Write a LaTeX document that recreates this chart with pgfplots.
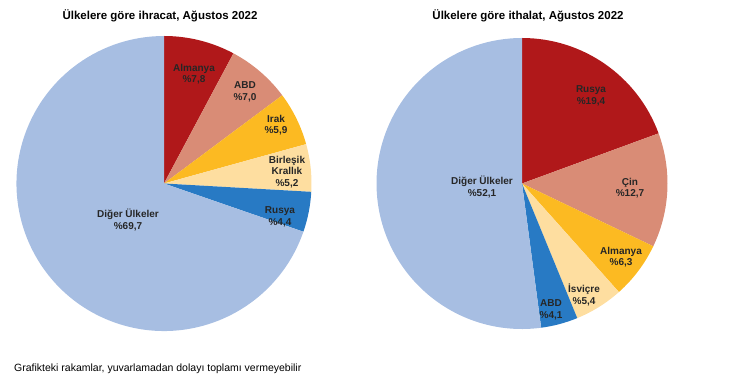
\documentclass[border=0pt]{standalone}
\usepackage{pgfplots}
\usepackage{pgfplotstable}
\pgfplotsset{compat=1.18}
\usepackage{fontspec}
\setmainfont{Liberation Sans}
\definecolor{c1}{HTML}{B0181A}
\definecolor{c2}{HTML}{D98C76}
\definecolor{c3}{HTML}{FCBA22}
\definecolor{c4}{HTML}{FEDEA0}
\definecolor{c5}{HTML}{287AC4}
\definecolor{c6}{HTML}{A7BEE2}
% exports, Aug 2022 (share %), clockwise from 12 o'clock
\pgfplotstableread{
v c
7.8 c1
7.0 c2
5.9 c3
5.2 c4
4.4 c5
69.7 c6
}\exports
% imports, Aug 2022
\pgfplotstableread{
v c
19.4 c1
12.7 c2
6.3 c3
5.4 c4
4.1 c5
52.1 c6
}\imports
\newcommand\drawpie[4]{% table, cx, cy, r
  \gdef\cum{0}%
  \pgfplotstableforeachcolumnelement{v}\of#1\as\val{%
    \pgfplotstablegetelem{\pgfplotstablerow}{c}\of#1%
    \let\col\pgfplotsretval
    \pgfmathsetmacro\a{90-3.6*\cum}%
    \pgfmathsetmacro\b{90-3.6*(\cum+\val)}%
    \edef\temp{\noexpand\fill[\col] (axis cs:#2,#3) -- ++(\a:#4pt) arc[start angle=\a, end angle=\b, radius=#4pt] -- cycle;}%
    \temp
    \pgfmathsetmacro\newcum{\cum+\val}%
    \xdef\cum{\newcum}%
  }%
}
\begin{document}
\begin{tikzpicture}
\begin{axis}[
  width=730pt, height=377pt, scale only axis,
  xmin=0, xmax=730, ymin=-377, ymax=0,
  hide axis, clip=false,
]
\drawpie{\exports}{164}{-183.5}{147.5}
\drawpie{\imports}{522}{-183.5}{145.5}
\begin{scope}[every node/.style={font=\bfseries\fontsize{10}{11.5}\selectfont, align=center, text=black!85}]
\node at (axis cs:194,-74) {Almanya\\\%7,8};
\node at (axis cs:245,-92) {ABD\\\%7,0};
\node at (axis cs:276,-125) {Irak\\\%5,9};
\node at (axis cs:287,-172) {Birleşik\\Krallık\\\%5,2};
\node at (axis cs:280,-217) {Rusya\\\%4,4};
\node at (axis cs:128,-220) {Diğer Ülkeler\\\%69,7};
\node at (axis cs:591,-96) {Rusya\\\%19,4};
\node at (axis cs:630,-188) {Çin\\\%12,7};
\node at (axis cs:621,-257) {Almanya\\\%6,3};
\node at (axis cs:584,-295) {İsviçre\\\%5,4};
\node at (axis cs:551,-310) {ABD\\\%4,1};
\node at (axis cs:482,-187) {Diğer Ülkeler\\\%52,1};
\end{scope}
\node[font=\bfseries\fontsize{11.5}{13}\selectfont] at (axis cs:160,-16) {Ülkelere göre ihracat, Ağustos 2022};
\node[font=\bfseries\fontsize{11.5}{13}\selectfont] at (axis cs:528,-16) {Ülkelere göre ithalat, Ağustos 2022};
\node[font=\fontsize{10.5}{12}\selectfont, anchor=west, inner sep=0pt] at (axis cs:14,-369) {Grafikteki rakamlar, yuvarlamadan dolayı toplamı vermeyebilir};
\end{axis}
\pgfresetboundingbox
\useasboundingbox (current axis.south west) rectangle (current axis.north east);
\end{tikzpicture}
\end{document}
